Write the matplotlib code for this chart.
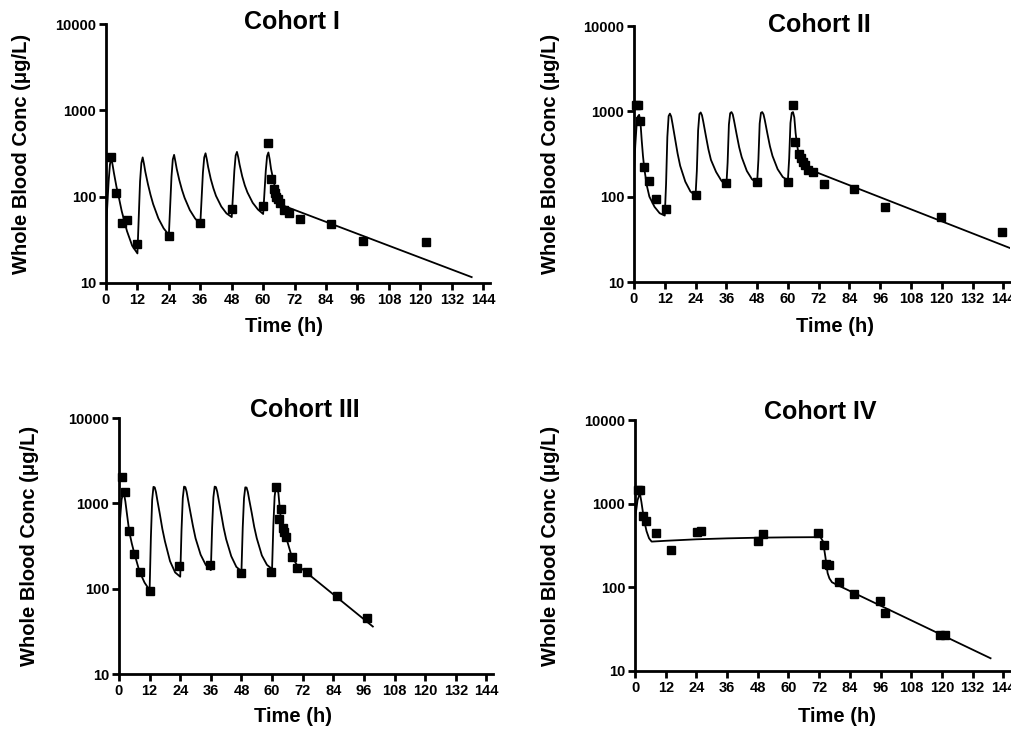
import matplotlib
matplotlib.use("Agg")
import matplotlib.pyplot as plt
from matplotlib.ticker import FixedLocator, FixedFormatter

plt.rcParams['font.family'] = ['Liberation Sans', 'DejaVu Sans']
plt.rcParams['font.weight'] = 'bold'

# ---- observed concentrations (squares) ----
obs1_t = [2, 4, 6, 8, 12, 24, 36, 48, 60, 62, 63, 64, 64.5, 65, 65.8, 66.4, 68, 70, 74, 86, 98, 122]
obs1_c = [285, 110, 50, 54, 28, 35, 50, 72, 77, 420, 160, 122, 110, 100, 93, 85, 71, 64, 55, 48, 31, 30]

obs2_t = [0.6, 1.6, 2.3, 4, 6, 8.4, 12.3, 24, 36, 48, 60, 62, 62.8, 64.3, 65, 65.8, 66.7, 68, 69.9,
          74, 85.8, 97.9, 119.7, 143.5]
obs2_c = [1175, 1175, 780, 220, 154, 95, 72, 104, 145, 149, 149, 1195, 434, 319, 284, 257, 237, 207, 193,
          141, 122, 76, 57, 39]

obs3_t = [1, 2.3, 4, 6, 8.2, 12, 23.6, 35.7, 47.9, 59.6, 61.6, 62.7, 63.5, 64.2, 64.7, 65.4, 67.7, 69.7,
          73.6, 85.4, 97.1]
obs3_c = [2010, 1365, 475, 254, 157, 93, 182, 187, 152, 158, 1540, 656, 850, 511, 467, 398, 232, 177,
          155, 81, 45]

obs4_t = [1.3, 2.1, 3.3, 4.3, 8.1, 14.1, 24.2, 25.9, 47.9, 49.9, 71.5, 73.8, 74.7, 76, 79.6, 85.5, 95.6,
          97.7, 119.2, 121]
obs4_c = [1445, 1445, 705, 614, 446, 276, 458, 467, 360, 437, 446, 317, 190, 183, 117, 84, 68, 50, 27, 27]

# ---- model fit curves ----
fit1_t = [0, 1, 1.5, 2, 2.5, 3, 4, 5, 6, 8, 10,
          12, 13, 13.5, 14, 14.5, 15, 16, 17, 18, 20, 22,
          24, 25, 25.5, 26, 26.5, 27, 28, 29, 30, 32, 34,
          36, 37, 37.5, 38, 38.5, 39, 40, 41, 42, 44, 46,
          48, 49, 49.5, 50, 50.5, 51, 52, 53, 54, 56, 58,
          60, 61, 61.5, 62, 62.5, 63, 64, 65, 66, 67, 68, 70, 139.6]
fit1_c = [42, 150, 235, 281, 235, 190, 130, 95, 68, 40, 27,
          22, 150, 245, 285, 240, 195, 140, 105, 82, 56, 43,
          36, 170, 270, 305, 255, 210, 155, 120, 97, 70, 56,
          48, 190, 285, 318, 270, 220, 160, 125, 102, 77, 64,
          58, 200, 300, 330, 285, 235, 172, 135, 112, 85, 71,
          63, 200, 295, 325, 270, 210, 150, 112, 93, 83, 78, 74, 11.7]

fit2_t = [0, 0.5, 1, 1.5, 2, 2.5, 3, 3.5, 4, 5, 6, 8, 10,
          12, 12.5, 13, 13.5, 14, 14.5, 15, 16, 17, 18, 20, 22,
          24, 24.5, 25, 25.5, 26, 26.5, 27, 28, 29, 30, 32, 34,
          36, 36.5, 37, 37.5, 38, 38.5, 39, 40, 41, 42, 44, 46,
          48, 48.5, 49, 49.5, 50, 50.5, 51, 52, 53, 54, 56, 58,
          60, 60.5, 61, 61.5, 62, 62.5, 63, 63.5, 64, 65, 66, 67, 68, 146.6]
fit2_c = [200, 400, 680, 870, 910, 760, 460, 300, 215, 135, 100, 76, 64,
          60, 140, 500, 880, 940, 870, 720, 480, 320, 230, 150, 115,
          103, 200, 600, 930, 970, 900, 760, 520, 360, 270, 195, 155,
          133, 250, 700, 950, 980, 920, 780, 540, 380, 290, 200, 160,
          145, 270, 720, 960, 980, 920, 790, 550, 390, 300, 210, 170,
          155, 280, 730, 960, 980, 850, 560, 420, 340, 285, 250, 228, 210, 25]

fit3_t = [0, 0.5, 1, 1.5, 2, 2.5, 3, 4, 5, 6, 8, 10,
          12, 12.5, 13, 13.5, 14, 14.5, 15, 16, 17, 18, 20, 22,
          24, 24.5, 25, 25.5, 26, 26.5, 27, 28, 29, 30, 32, 34,
          36, 36.5, 37, 37.5, 38, 38.5, 39, 40, 41, 42, 44, 46,
          48, 48.5, 49, 49.5, 50, 50.5, 51, 52, 53, 54, 56, 58,
          60, 60.5, 61, 61.5, 62, 62.5, 63, 63.5, 64.4, 65.8, 67.7, 69.7, 99.5]
fit3_c = [450, 700, 1100, 1300, 1280, 1050, 800, 470, 340, 260, 160, 118,
          96, 400, 1100, 1560, 1540, 1350, 1100, 750, 500, 360, 210, 155,
          138, 480, 1150, 1570, 1550, 1370, 1130, 780, 540, 390, 250, 190,
          165, 520, 1180, 1570, 1550, 1370, 1130, 770, 520, 380, 240, 180,
          160, 520, 1150, 1540, 1530, 1360, 1120, 780, 530, 390, 245, 190,
          170, 550, 1200, 1580, 1560, 1300, 880, 640, 487, 373, 238, 191, 36]

fit4_t = [0, 1, 1.9, 2.5, 3.5, 4.5, 5.5, 6.5, 12, 24, 36, 48, 60, 72.5, 73.5, 74.4, 75.3, 76, 77, 79, 139]
fit4_c = [650, 1100, 1340, 1050, 650, 470, 385, 352, 360, 375, 385, 392, 396, 398, 354, 234, 148, 128,
          115, 107, 14.2]

titles = ["Cohort I", "Cohort II", "Cohort III", "Cohort IV"]
x_ticks = list(range(0, 145, 12))
y_ticks = [10, 100, 1000, 10000]
y_labels = ["10", "100", "1000", "10000"]

W, H = 1012, 730
fig = plt.figure(figsize=(W / 100, H / 100), dpi=100)


def box(left, top, right, bottom):
    return [left / W, 1 - bottom / H, (right - left) / W, (bottom - top) / H]


# pixel boxes for each panel
boxes = [box(106, 24, 490, 283), box(634, 26, 1010, 282),
         box(119, 418, 493, 674), box(635, 420, 1010, 671)]
title_pos = [(292, 22), (819, 25), (305, 410), (820, 412)]
ylab_x = [22, 551, 30, 551]
xlab_pos = [(284, 326), (835, 326), (293, 717), (837, 717)]

fits = [(fit1_t, fit1_c), (fit2_t, fit2_c), (fit3_t, fit3_c), (fit4_t, fit4_c)]
obs = [(obs1_t, obs1_c), (obs2_t, obs2_c), (obs3_t, obs3_c), (obs4_t, obs4_c)]

for i in range(4):
    ax = fig.add_axes(boxes[i])
    ax.plot(fits[i][0], fits[i][1], color="black", lw=1.3, solid_joinstyle="round")
    ax.plot(obs[i][0], obs[i][1], "s", color="black", ms=6, clip_on=False)
    ax.set_yscale("log")
    ax.set_ylim(10, 10000)
    ax.set_xlim(0, 146.6)
    ax.yaxis.set_major_locator(FixedLocator(y_ticks))
    ax.yaxis.set_major_formatter(FixedFormatter(y_labels))
    ax.yaxis.set_minor_locator(FixedLocator([]))
    ax.set_xticks(x_ticks)
    for s in ["top", "right"]:
        ax.spines[s].set_visible(False)
    for s in ["left", "bottom"]:
        ax.spines[s].set_linewidth(2)
    ax.tick_params(width=2, length=5, labelsize=10.5, pad=2)
    for lab in ax.get_xticklabels() + ax.get_yticklabels():
        lab.set_fontweight("bold")

    l, b, w, h = boxes[i]
    fig.text(title_pos[i][0] / W, 1 - title_pos[i][1] / H, titles[i], ha="center", va="center",
             fontsize=18, fontweight="bold")
    fig.text(ylab_x[i] / W, b + h / 2, "Whole Blood Conc (\u03bcg/L)", rotation=90,
             ha="center", va="center", fontsize=14.5, fontweight="bold")
    fig.text(xlab_pos[i][0] / W, 1 - xlab_pos[i][1] / H, "Time (h)", ha="center", va="center",
             fontsize=14.5, fontweight="bold")

fig.savefig("out.png", dpi=100)
